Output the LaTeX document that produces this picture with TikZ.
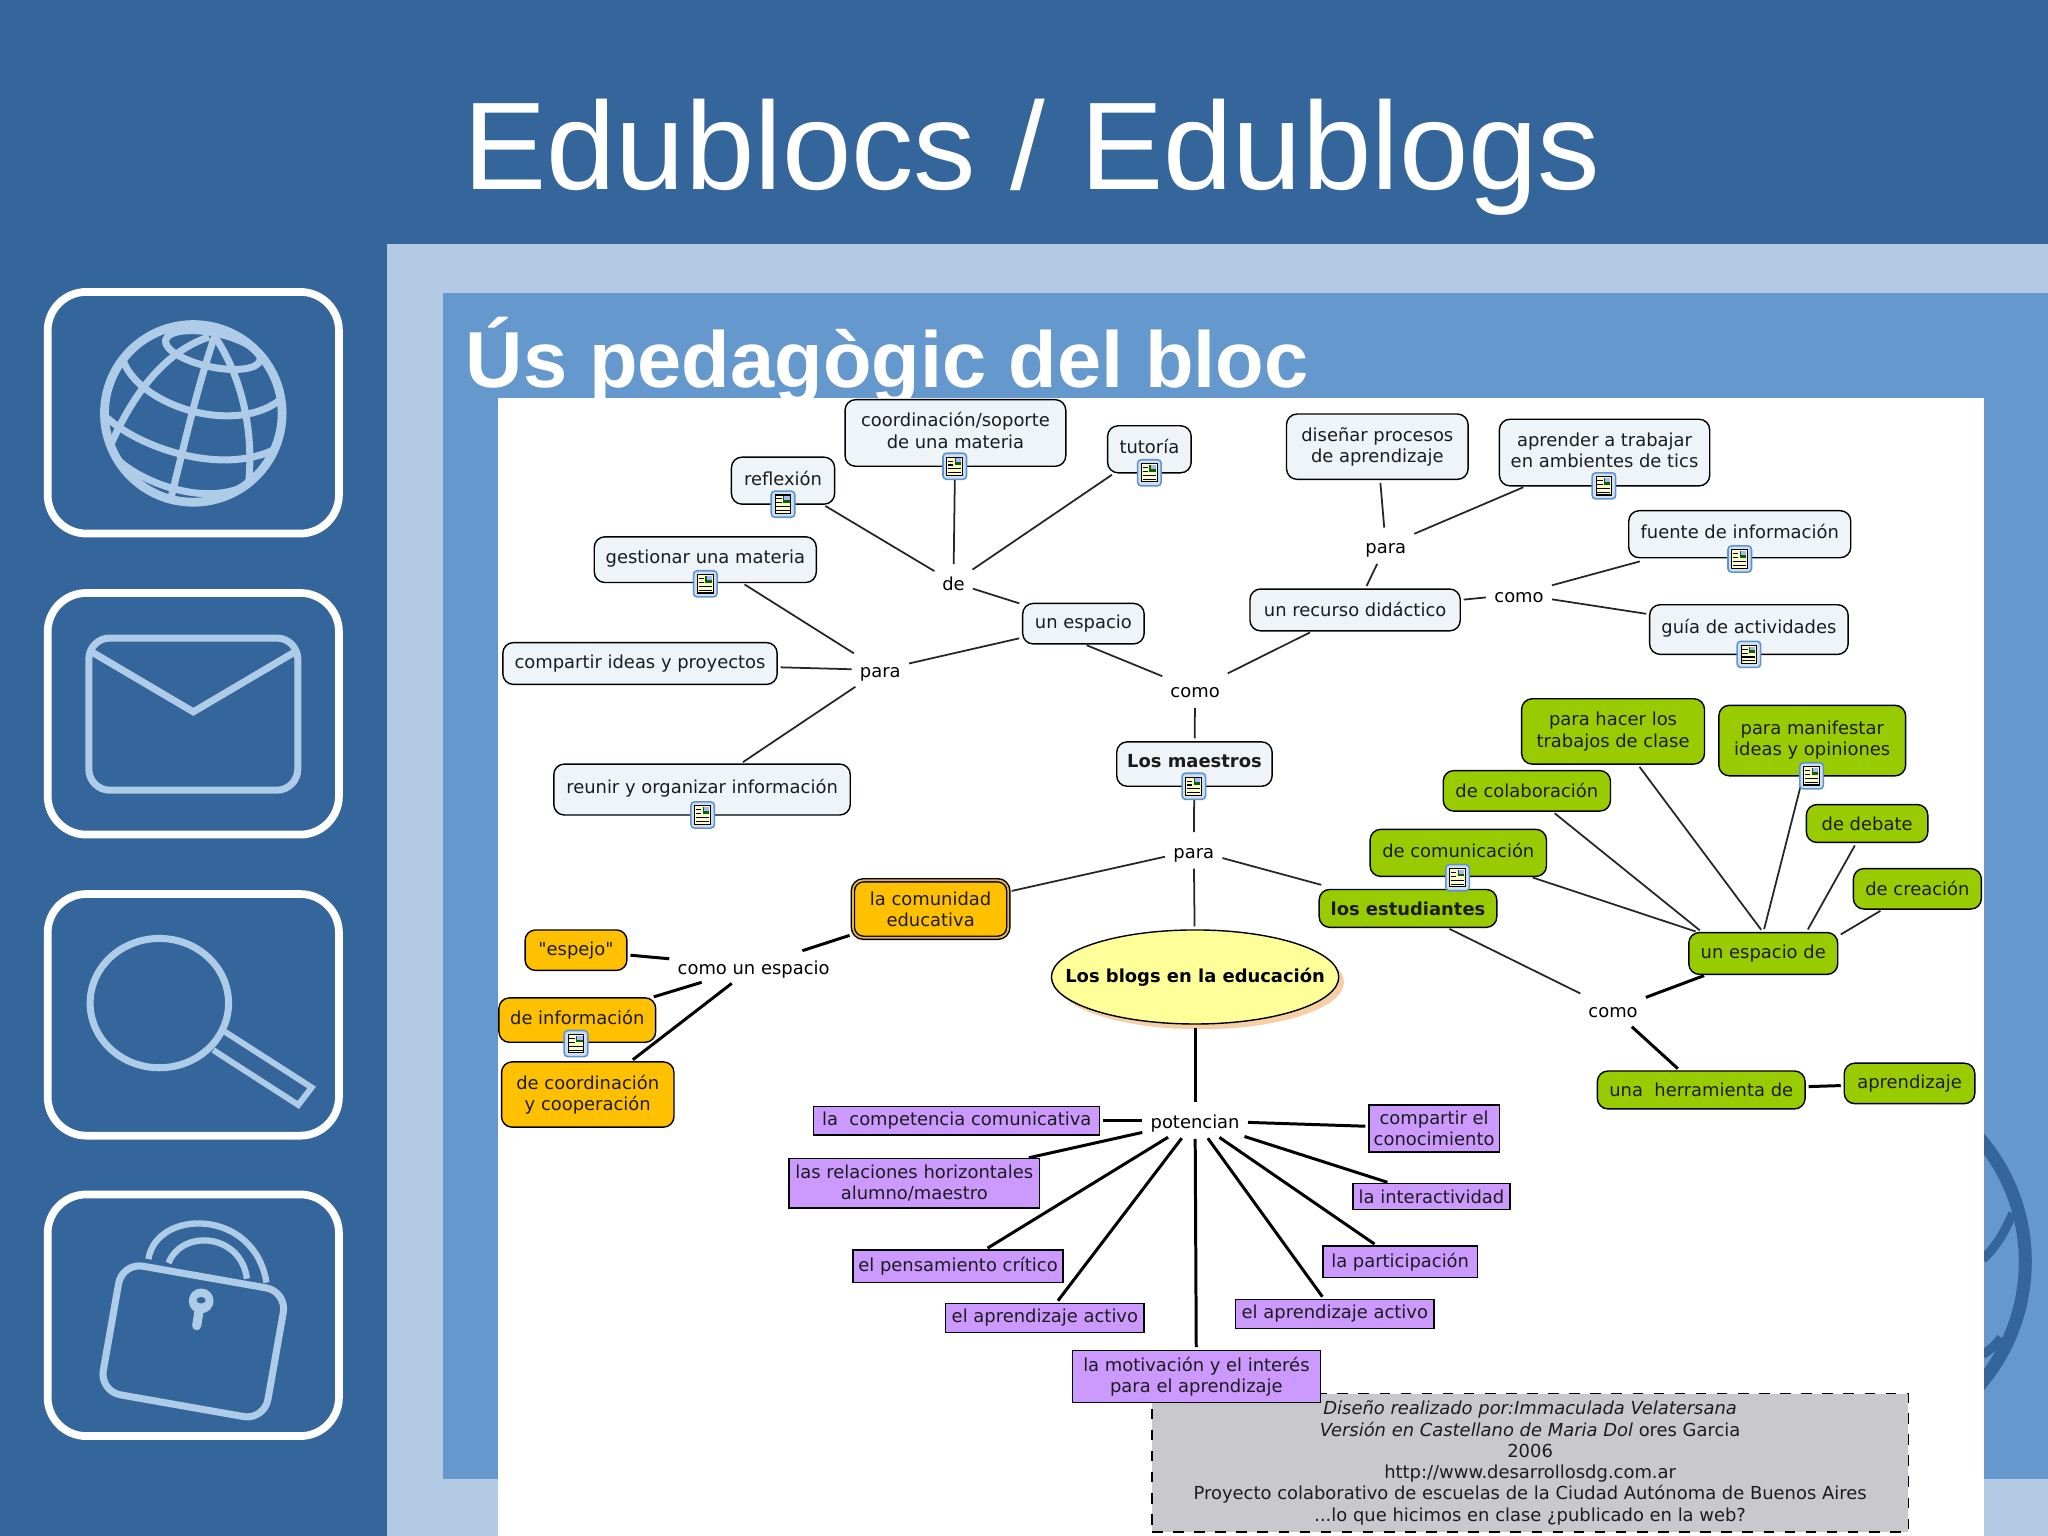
\documentclass[tikz,border=0pt]{standalone}
\usepackage{fontspec}
\setmainfont{DejaVu Sans}[Ligatures=TeXOff]
\newfontfamily\slidefont{Liberation Sans}
\usetikzlibrary{shapes.geometric}

\definecolor{slidedark}{HTML}{34669C}
\definecolor{slidelight}{HTML}{B3CAE5}
\definecolor{slidemid}{HTML}{6598CC}
\definecolor{iconblue}{HTML}{AECBE8}
\definecolor{conceptfill}{HTML}{EFF4F8}
\definecolor{greenfill}{HTML}{99CC00}
\definecolor{orangefill}{HTML}{FFC000}
\definecolor{purplefill}{HTML}{CC99FF}
\definecolor{blogfill}{HTML}{FFFF99}
\definecolor{blogshade}{HTML}{F6CFA6}
\definecolor{notegray}{HTML}{C9C9CD}
\definecolor{goldedge}{HTML}{E3B64A}
\definecolor{inktext}{HTML}{1C1C1C}
\definecolor{noteedge}{HTML}{5F93D0}
\definecolor{noteback}{HTML}{CFE0F2}

\newcommand{\unitlen}{0.13061mm}
\newcommand{\mapfont}{\fontsize{5.1}{6.05}\selectfont}

\tikzset{
    sized/.style 2 args={minimum width=#1*\unitlen, minimum height=#2*\unitlen, inner sep=0pt, outer sep=0pt},
    concept/.style={draw=black, fill=conceptfill, rounded corners=3pt, line width=0.4pt, align=center, text=inktext, font=\mapfont},
    greenc/.style={concept, fill=greenfill},
    orangec/.style={concept, fill=orangefill},
    purplec/.style={draw=black, fill=purplefill, line width=0.4pt, align=center, text=inktext, font=\mapfont},
    phrase/.style={inner sep=1.2pt, text=black, font=\mapfont, text height=5pt, text depth=0.6pt},
    linkline/.style={line width=0.5pt, shorten <=1pt, shorten >=1pt, draw=black!85},
    linkthick/.style={line width=0.85pt, shorten <=1pt, shorten >=1pt},
    iconline/.style={draw=iconblue, line width=2pt},
    iconframe/.style={draw=white, line width=2.2pt, rounded corners=11pt, minimum width=223*\unitlen, minimum height=185*\unitlen},
    docicon/.pic={
        \draw[draw=noteedge, fill=noteback, line width=0.45pt, rounded corners=1pt] (-9,-10) rectangle (9,10);
        \draw[fill=yellow!20, line width=0.3pt] (-6,-7) rectangle (6,7);
        \fill[green!40!black] (0,-6) rectangle (5,-1);
        \fill[blue!30] (1,-6) rectangle (5,-3);
        \draw[line width=0.3pt] (-5,-4) -- (-1,-4) (-5,-1) -- (-1,-1) (-5,2) -- (5,2) (-5,5) -- (5,5);
    }
}

\begin{document}
\begin{tikzpicture}[x=0.13061mm, y=-0.13061mm]
    \useasboundingbox (0,0) rectangle (1568,1176);
    \fill[slidedark] (0,0) rectangle (1568,1176);
    \fill[slidelight] (296,187) rectangle (1568,1176);
    \fill[slidemid] (339,224) rectangle (1568,1132);

    \draw[draw=slidedark, line width=3.7pt] (1405.6,966) circle (145);
    \draw[draw=slidedark, line width=2.6pt] (1541,929) .. controls (1534,945) and (1527,956) .. (1518,964);
    \draw[draw=slidedark, line width=2.6pt] (1532,1024) .. controls (1528,1030) and (1523,1034) .. (1518,1037);

    \node[anchor=base west, inner sep=0pt, text=white, font=\slidefont\fontsize{35.5}{40}\selectfont] (title) at (354,145) {Edublocs / Edublogs};
    \node[anchor=base west, inner sep=0pt, text=white, font=\slidefont\bfseries\fontsize{22.6}{28}\selectfont] (subtitle) at (356,297) {Ús pedagògic del bloc};

    \fill[white] (381,305) rectangle (1519,1176);

    \node[iconframe] (globeframe) at (148,316) {};
    \node[iconframe] (mailframe) at (148,546.5) {};
    \node[iconframe] (lensframe) at (148,777) {};
    \node[iconframe] (lockframe) at (148,1007) {};

    \begin{scope}
        \clip (148,316.5) circle (71);
        \draw[iconline] (164.6,256.5) .. controls (150,300) and (140,345) .. (130,385);
        \draw[iconline] (164.6,258) .. controls (183,285) and (197,330) .. (189,380);
        \draw[iconline] (160,258) .. controls (130,268) and (105,295) .. (85,340);
        \draw[iconline] (94,275) .. controls (105,310) and (180,335) .. (216,305);
        \draw[iconline] (82,320) .. controls (110,345) and (175,365) .. (214,342);
        \draw[iconline] (88,350) .. controls (110,372) and (165,390) .. (194,368);
        \draw[iconline] (163,268) ellipse [x radius=37, y radius=13, rotate=-12];
    \end{scope}
    \draw[iconline, line width=2.5pt] (148,316.5) circle (68);

    \draw[iconline, rounded corners=6pt] (68,488.5) rectangle (228,605);
    \draw[iconline] (70,499) -- (148,545) -- (226,499);

    \draw[iconline] (122,768) ellipse [x radius=53, y radius=49.5];
    \draw[iconline, line width=1.7pt] (172.3,790) -- (238.6,832.6) -- (228.4,846) -- (163.3,804);

    \draw[iconline, rotate around={-10:(148,1027)}, rounded corners=6pt] (84,977) rectangle (212,1077);
    \draw[iconline, line width=1.8pt] (113.6,964) .. controls (120,925) and (195,925) .. (204,982);
    \draw[iconline, line width=1.8pt] (129,967) .. controls (140,940) and (185,945) .. (189,979);
    \fill[iconblue] (154,996) circle (9.5);
    \draw[iconline, line width=2.6pt, line cap=round] (153,1000) -- (150.6,1015);
    \fill[slidedark] (154,995.5) ellipse [x radius=3.5, y radius=2.5];

    \node[concept, sized={169}{51}] (coordina) at (731.5,331.5) {coordinación/soporte\\de una materia\\[-4.5pt]};
    \node[concept, sized={64}{36}] (tutoria) at (880,344) {tutoría\\[-4.5pt]};
    \node[concept, sized={79}{36}] (reflexion) at (599.5,368) {reflexión\\[-4.5pt]};
    \node[concept, sized={170}{35}] (gestionar) at (540,428.5) {gestionar una materia\\[-4.5pt]};
    \node[concept, sized={210}{32}] (compartir) at (490,508) {compartir ideas y proyectos};
    \node[concept, sized={227}{39}] (reunir) at (537.5,604.5) {reunir y organizar información\\[-4.5pt]};
    \node[concept, sized={93}{31}] (unespacio) at (829.5,477.5) {un espacio};
    \node[concept, sized={161}{32}] (recurso) at (1037.5,467) {un recurso didáctico};
    \node[concept, sized={139}{50}] (disenar) at (1054.5,342) {diseñar procesos\\de aprendizaje};
    \node[concept, sized={161}{51}] (aprender) at (1228.5,346.5) {aprender a trabajar\\en ambientes de tics\\[-4.5pt]};
    \node[concept, sized={170}{36}] (fuente) at (1332,409) {fuente de información\\[-4.5pt]};
    \node[concept, sized={152}{38}] (guia) at (1339,482) {guía de actividades\\[-4.5pt]};
    \node[concept, sized={119}{34}, font=\mapfont\bfseries] (maestros) at (914.5,585) {Los maestros\\[-4.5pt]};

    \node[phrase] (de) at (730,446) {de};
    \node[phrase] (paraA) at (1061,418) {para};
    \node[phrase] (comoA) at (1163,455) {como};
    \node[phrase] (paraB) at (674,513) {para};
    \node[phrase] (comoB) at (915,528) {como};
    \node[phrase] (paraC) at (914,651) {para};
    \node[phrase] (comoesp) at (577,740) {como un espacio};
    \node[phrase] (comoC) at (1235,773) {como};
    \node[phrase] (potencian) at (915,858) {potencian};

    \node[greenc, sized={140}{50}] (hacer) at (1235,560) {para hacer los\\trabajos de clase};
    \node[greenc, sized={143}{54}] (manifestar) at (1387.5,567) {para manifestar\\ideas y opiniones\\[-4.5pt]};
    \node[greenc, sized={128}{31}] (colabora) at (1169,605.5) {de colaboración};
    \node[greenc, sized={93}{29}] (debate) at (1429.5,630.5) {de debate};
    \node[greenc, sized={135}{36}] (comunica) at (1116.5,653) {de comunicación\\[-4.5pt]};
    \node[greenc, sized={98}{31}] (creacion) at (1468,680.5) {de creación};
    \node[greenc, sized={136}{29}, font=\mapfont\bfseries] (estudiantes) at (1078,695.5) {los estudiantes};
    \node[greenc, sized={114}{32}] (espaciode) at (1350,730) {un espacio de};
    \node[greenc, sized={159}{29}] (herramienta) at (1302.5,834.5) {una\ \ herramienta de};
    \node[greenc, sized={100}{31}] (aprendizaje) at (1462,829.5) {aprendizaje};

    \node[orangec, sized={119}{44}, double=goldedge, double distance=0.5pt] (comunidad) at (712.5,696) {la comunidad\\educativa};
    \node[orangec, sized={78}{31}] (espejo) at (441,727.5) {"espejo"};
    \node[orangec, sized={120}{34}] (informacion) at (442,781) {de información\\[-4.5pt]};
    \node[orangec, sized={132}{50}] (coopera) at (450,838) {de coordinación\\y cooperación};

    \fill[blogshade] (919,752) ellipse [x radius=110, y radius=36];
    \node[ellipse, draw=black, fill=blogfill, line width=0.4pt, sized={220}{72}, font=\mapfont\bfseries] (blogs) at (915,748) {\makebox[0pt]{Los blogs en la educación}};

    \node[draw=black, dashed, fill=notegray, line width=0.4pt, sized={579}{106}, align=center, text=inktext, font=\mapfont] (credits) at (1171.5,1120) {\itshape Diseño realizado por:Immaculada Velatersana\\\itshape Versión en Castellano de Maria Dol {\upshape ores Garcia}\\2006\\http://www.desarrollosdg.com.ar\\Proyecto colaborativo de escuelas de la Ciudad Autónoma de Buenos Aires\\...lo que hicimos en clase ¿publicado en la web?};

    \node[purplec, sized={219}{22}] (competencia) at (732.5,858) {la\ \ competencia comunicativa};
    \node[purplec, sized={192}{38}] (relaciones) at (700,906) {las relaciones horizontales\\alumno/maestro};
    \node[purplec, sized={161}{25}] (pensamiento) at (733.5,969.5) {el pensamiento crítico};
    \node[purplec, sized={152}{22}] (activoA) at (800,1009) {el aprendizaje activo};
    \node[purplec, sized={190}{40}] (motivacion) at (916,1054) {la motivación y el interés\\para el aprendizaje};
    \node[purplec, sized={152}{22}] (activoB) at (1022,1006) {el aprendizaje activo};
    \node[purplec, sized={118}{24}] (participa) at (1072,966) {la participación};
    \node[purplec, sized={120}{20}] (interactiva) at (1096,916) {la interactividad};
    \node[purplec, sized={100}{36}] (conocimiento) at (1098,864) {compartir el\\conocimiento};

    \draw[linkline] (reflexion) edge (de)
    (coordina) edge (de)
    (tutoria) edge (de)
    (de) edge (unespacio)
    (gestionar) edge (paraB)
    (compartir) edge (paraB)
    (reunir) edge (paraB)
    (paraB) edge (unespacio)
    (unespacio.south) edge (comoB)
    (recurso) edge (comoB)
    (comoB) edge (maestros)
    (recurso) edge (paraA)
    (disenar) edge (paraA)
    (aprender) edge (paraA)
    (recurso) edge (comoA)
    (comoA) edge[shorten >=4pt] (fuente)
    (comoA) edge (guia)
    (maestros) edge (paraC)
    (paraC) edge (comunidad)
    (paraC) edge[shorten >=5pt] (estudiantes)
    (paraC) edge (blogs)
    (estudiantes) edge (comoC)
    (hacer) edge (espaciode.north)
    (manifestar) edge (espaciode.north)
    (colabora) edge (espaciode.161)
    (debate) edge (espaciode.26)
    (comunica) edge (espaciode.162)
    (creacion) edge (espaciode.13)
    ;
    \draw[linkthick] (comunidad) edge (comoesp)
    (espejo) edge (comoesp)
    (informacion) edge (comoesp)
    (coopera) edge (comoesp)
    (comoC) edge (espaciode)
    (comoC) edge (herramienta)
    (herramienta) edge (aprendizaje)
    (blogs) edge (potencian)
    (potencian) edge (competencia)
    (potencian) edge (relaciones)
    (potencian) edge (pensamiento)
    (potencian) edge (activoA)
    (potencian) edge (motivacion)
    (potencian) edge (activoB)
    (potencian) edge (participa)
    (potencian) edge (interactiva)
    (potencian) edge (conocimiento)
    ;

    \pic at (731,357) {docicon};
    \pic at (880,362) {docicon};
    \pic at (599.5,386) {docicon};
    \pic at (540,447) {docicon};
    \pic at (538,624) {docicon};
    \pic at (1228,372) {docicon};
    \pic at (1332,428) {docicon};
    \pic at (1339,501) {docicon};
    \pic at (914,602) {docicon};
    \pic at (1387,594) {docicon};
    \pic at (1116,672) {docicon};
    \pic at (441,799) {docicon};
\end{tikzpicture}
\end{document}
